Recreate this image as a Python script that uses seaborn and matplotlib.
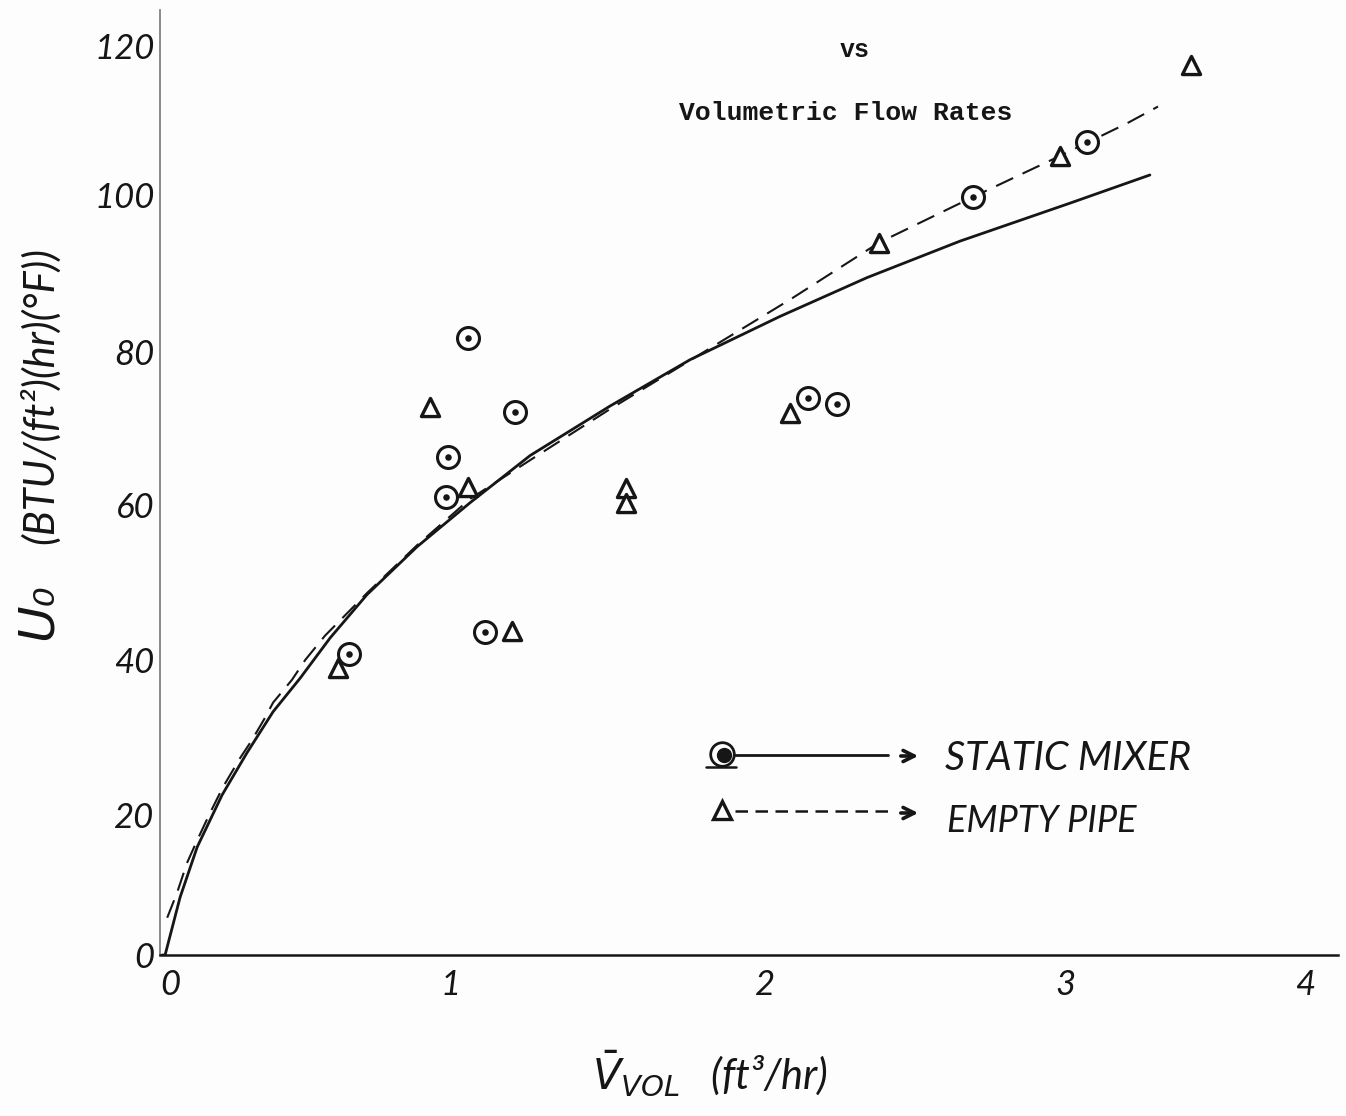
import numpy as np
import pandas as pd
import matplotlib
matplotlib.use("Agg")
import matplotlib.pyplot as plt
import seaborn as sns

# values
mixer_x = [0.623, 1.02, 1.177, 0.953, 0.947, 1.077, 2.153, 2.25, 2.703, 3.083]
mixer_y = [39.6, 81.1, 71.4, 65.5, 60.3, 42.5, 73.3, 72.5, 99.7, 107.0]
pipe_x = [0.587, 0.893, 1.02, 1.167, 1.547, 1.547, 2.093, 2.39, 2.993, 3.43]
pipe_y = [37.8, 72.1, 61.6, 42.6, 61.4, 59.5, 71.3, 93.7, 105.1, 117.1]

solid_x = [0.0, 0.01, 0.06, 0.117, 0.20, 0.283, 0.37, 0.46, 0.56, 0.683, 0.85, 1.027,
           1.227, 1.493, 1.76, 2.06, 2.35, 2.66, 3.027, 3.293]
solid_y = [0.0, 0.0, 7.6, 14.2, 21.05, 26.6, 32.0, 36.4, 41.7, 47.4, 53.7, 59.5,
           65.7, 72.2, 78.3, 84.0, 89.1, 93.9, 98.9, 102.6]
dashed_x = [0.017, 0.05, 0.083, 0.117, 0.16, 0.203, 0.26, 0.30, 0.343, 0.37, 0.433, 0.477,
            0.543, 0.683, 0.85, 1.027, 1.243, 1.493, 1.793, 2.093, 2.39, 2.703, 2.993, 3.217, 3.32]
dashed_y = [4.9, 8.2, 12.1, 15.1, 18.7, 22.1, 25.9, 28.3, 31.2, 33.2, 36.2, 38.8,
            42.0, 47.6, 53.9, 60.0, 65.5, 71.8, 79.0, 86.2, 93.7, 99.7, 105.1, 109.4, 111.6]

# the axis numbers are hand lettered and do not sit on an even grid
x_tick_pos = [0.027, 0.96, 2.01, 3.01, 3.81]
x_tick_labels = ["0", "1", "2", "3", "4"]
y_tick_pos = [0, 18.4, 38.8, 59.2, 79.3, 100, 119.5]
y_tick_labels = ["0", "20", "40", "60", "80", "100", "120"]

sns.set_theme(style="white")
plt.rcParams["font.family"] = ["Lato", "DejaVu Sans"]

paper = "#fdfdfd"
ink = "#161616"

fig = plt.figure(figsize=(13.46, 11.16), dpi=100, facecolor=paper)
ax = fig.add_axes([160 / 1346, 161 / 1116, 1178 / 1346, 945 / 1116], facecolor=paper)

sns.lineplot(x=solid_x, y=solid_y, color=ink, linewidth=2.0, estimator=None, sort=False, ax=ax)
sns.lineplot(x=dashed_x, y=dashed_y, color=ink, linewidth=1.5, estimator=None, sort=False,
             linestyle=(0, (9, 5)), ax=ax)

# open circle with a dot in the middle
sns.scatterplot(x=mixer_x, y=mixer_y, marker="o", s=250, facecolor=paper, edgecolor=ink,
                linewidth=2.2, zorder=3, ax=ax)
sns.scatterplot(x=mixer_x, y=mixer_y, marker="o", s=22, color=ink, linewidth=0, zorder=4, ax=ax)
sns.scatterplot(x=pipe_x, y=pipe_y, marker="^", s=170, facecolor=paper, edgecolor=ink,
                linewidth=2.4, zorder=3, ax=ax)

ax.set_xticks(x_tick_pos, x_tick_labels)
ax.set_yticks(y_tick_pos, y_tick_labels)
ax.set_xlim(-0.007, 3.92)
ax.set_ylim(0, 124.3)
ax.tick_params(axis="both", length=0, labelsize=25, colors=ink)
for lab in ax.get_xticklabels() + ax.get_yticklabels():
    lab.set_fontstyle("italic")
ax.tick_params(axis="x", pad=10)
ax.tick_params(axis="y", pad=4)

ax.spines["top"].set_visible(False)
ax.spines["right"].set_visible(False)
ax.spines["bottom"].set_color(ink)
ax.spines["bottom"].set_linewidth(1.8)
ax.spines["left"].set_color("#777777")
ax.spines["left"].set_linewidth(1.2)

ax.set_xlabel(r"$\bar{V}_{VOL}$   (ft³/hr)", fontsize=30, style="italic", color=ink)
ax.xaxis.set_label_coords((710 - 160) / 1178, -0.099)
ax.set_ylabel("(BTU/(ft²)(hr)(°F))", fontsize=30, style="italic", color=ink)
ax.yaxis.set_label_coords(-(160 - 60) / 1178, (955 - 395) / 945)
fig.text(38 / 1346, 1 - 612 / 1116, "U₀", fontsize=36, style="italic", rotation=90,
         color=ink, ha="center", va="center", family=["DejaVu Sans"])

# typed title fragments
fig.text(855 / 1346, 1 - 50 / 1116, "vs", fontsize=18, fontweight="bold", family="Liberation Mono",
         color=ink, ha="center", va="center")
fig.text(846 / 1346, 1 - 113 / 1116, "Volumetric Flow Rates", fontsize=19, fontweight="bold",
         family="Liberation Mono", color=ink, ha="center", va="center")

# hand drawn legend
def fx(px):
    return px / 1346

def fy(py):
    return 1 - py / 1116

fig.add_artist(plt.Line2D([fx(735), fx(888)], [fy(755), fy(755)], color=ink, lw=2.0))
fig.add_artist(plt.Line2D([fx(735), fx(892)], [fy(811), fy(811)], color=ink, lw=1.8,
                          ls=(0, (5, 3))))
for y_px in [756, 813]:
    ax.annotate("", xy=(fx(921), fy(y_px)), xytext=(fx(898), fy(y_px)),
                xycoords="figure fraction", textcoords="figure fraction",
                arrowprops=dict(arrowstyle="->", color=ink, lw=2.6, mutation_scale=20))
fig.add_artist(plt.Line2D([fx(722)], [fy(754)], marker="o", ms=17, mfc=paper, mec=ink, mew=2.0))
fig.add_artist(plt.Line2D([fx(724)], [fy(755)], marker="o", ms=10, color=ink))
fig.add_artist(plt.Line2D([fx(706), fx(736)], [fy(767), fy(767)], color=ink, lw=1.8))
fig.add_artist(plt.Line2D([fx(722)], [fy(810)], marker="^", ms=13, mfc=paper, mec=ink, mew=2.4))
fig.text(fx(945), fy(759), "STATIC MIXER", fontsize=28.5, style="italic", color=ink, va="center")
fig.text(fx(947), fy(822), "EMPTY PIPE", fontsize=26, style="italic", color=ink, va="center")

fig.savefig("out.png", dpi=100, facecolor=paper)
